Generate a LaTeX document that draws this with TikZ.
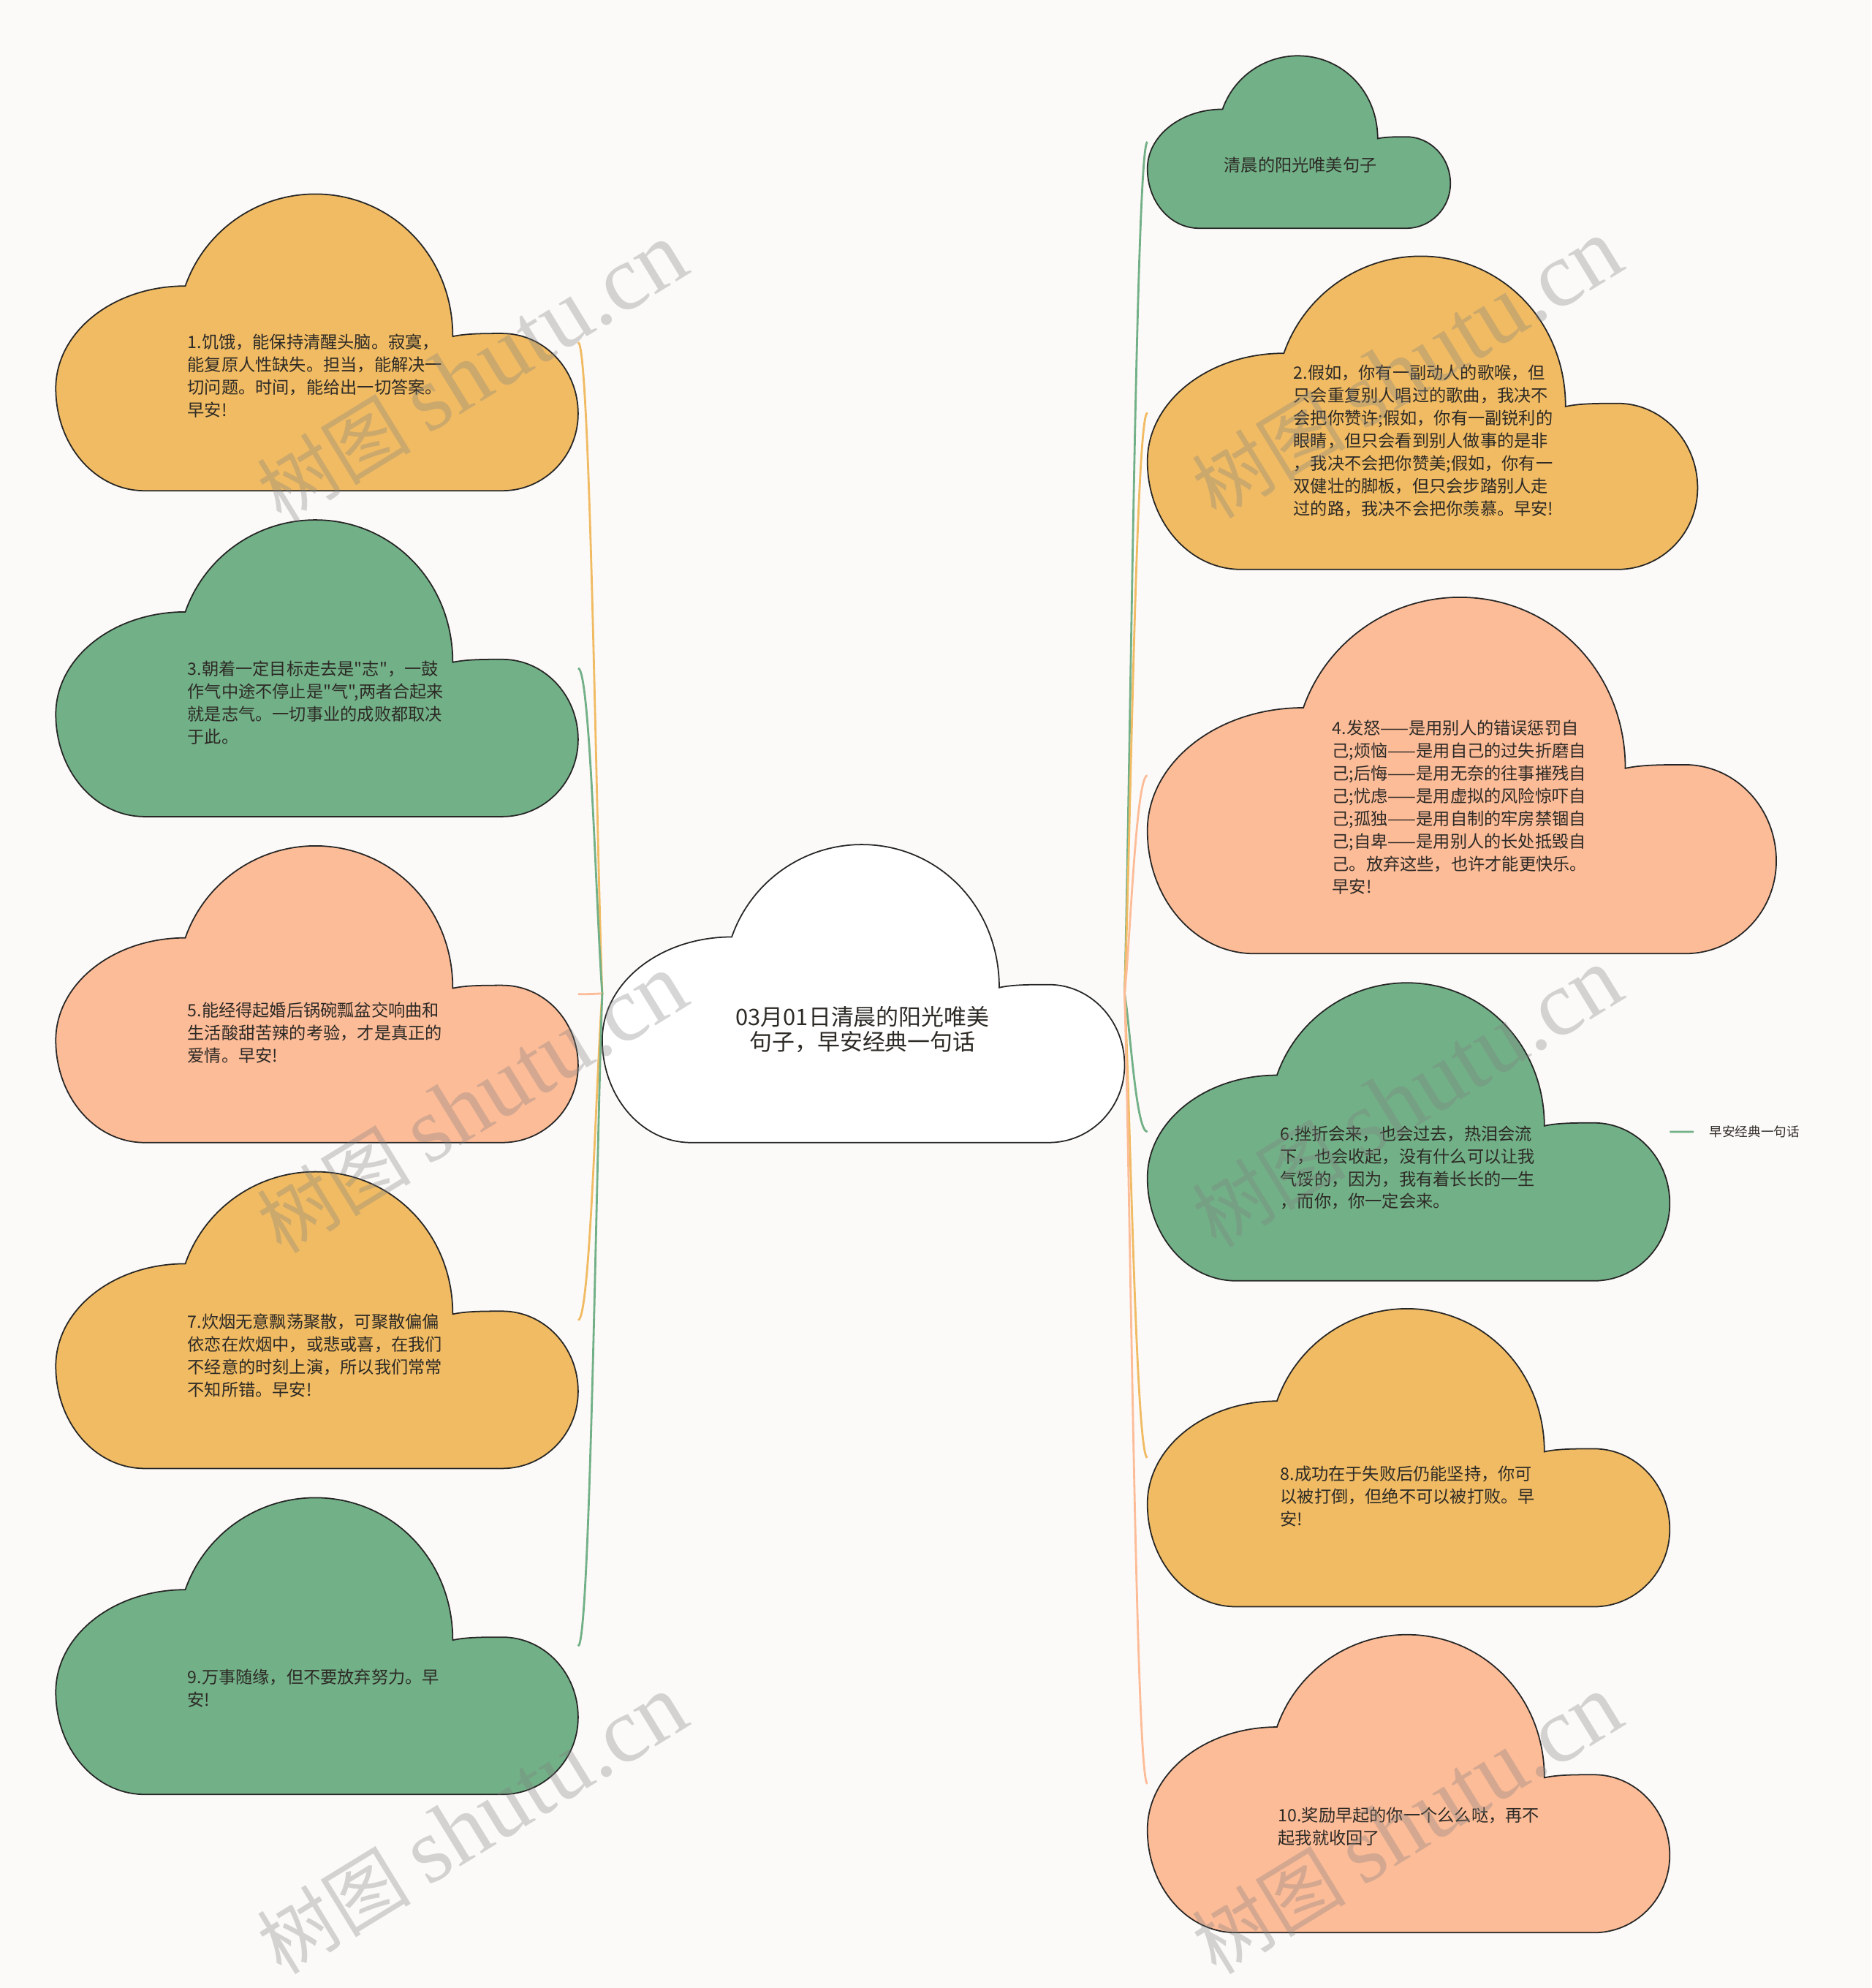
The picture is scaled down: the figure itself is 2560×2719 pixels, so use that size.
\documentclass[tikz,border=0pt]{standalone}
\usepackage{fontspec}
\setmainfont{Noto Sans CJK SC}[Ligatures=TeXOff]
\newfontfamily\wmserif{Liberation Serif}
\usetikzlibrary{calc}

\definecolor{bgpaper}{RGB}{252,250,248}
\definecolor{cloudY}{RGB}{240,187,99}
\definecolor{cloudG}{RGB}{114,176,135}
\definecolor{cloudP}{RGB}{253,188,152}
\definecolor{inkdark}{RGB}{45,42,38}

% curved branch: colour, from, to
\newcommand{\branch}[3]{%
  \draw[link, #1] (#2) .. controls ($(#2)!0.25!(#3)$) and ($(#2 |- #3)!0.5!(#3)$) .. (#3);}

\begin{document}
\begin{tikzpicture}[
    x=0.01cm, y=-0.01cm,
    link/.style={line width=0.8pt},
    txt/.style={font=\fontsize{6.6}{8.8}\selectfont, text=inkdark, align=left, anchor=west, inner sep=0pt},
    wmark/.style={rotate=31.5, text=gray, text opacity=0.32, inner sep=0pt},
    cloud/.pic={
      \filldraw[fill=#1, draw=black!85, line width=0.5pt]
        (0.17,1) .. controls (0.075,1) and (0,0.845) .. (0,0.655)
        .. controls (0,0.465) and (0.11,0.31) .. (0.248,0.31)
        .. controls (0.285,0.124) and (0.385,0) .. (0.497,0)
        .. controls (0.642,0) and (0.76,0.206) .. (0.76,0.48)
        .. controls (0.785,0.47) and (0.82,0.47) .. (0.855,0.47)
        .. controls (0.935,0.47) and (1,0.591) .. (1,0.74)
        .. controls (1,0.884) and (0.935,1) .. (0.855,1)
        -- cycle;
      \coordinate (-e) at (1,0.5);
      \coordinate (-w) at (0,0.5);
    },
]
\useasboundingbox (0,0) rectangle (2560,2719);
\clip (0,0) rectangle (2560,2719);
\fill[bgpaper] (0,0) rectangle (2560,2719);

% centre topic
\pic[shift={(823.9,1155.1)}, xscale=714.6, yscale=407.6] (cen) {cloud=white};
\node[align=center, inner sep=0pt, text=inkdark, font=\fontsize{8.8}{9.6}\selectfont] (main) at (1180,1408)
  {03月01日清晨的阳光唯美\\句子，早安经典一句话};

% left column
\pic[shift={(76.3,265.4)}, xscale=714.6, yscale=405.8] (c1) {cloud=cloudY};
\pic[shift={(76.3,711.1)}, xscale=714.6, yscale=405.8] (c3) {cloud=cloudG};
\pic[shift={(76.3,1156.9)}, xscale=714.6, yscale=405.8] (c5) {cloud=cloudP};
\pic[shift={(76.3,1602.6)}, xscale=714.6, yscale=405.8] (c7) {cloud=cloudY};
\pic[shift={(76.3,2048.4)}, xscale=714.6, yscale=405.8] (c9) {cloud=cloudG};
\node[txt] (t1) at (256,514) {1.饥饿，能保持清醒头脑。寂寞，\\能复原人性缺失。担当，能解决一\\切问题。时间，能给出一切答案。\\早安!};
\node[txt] (t3) at (256,961) {3.朝着一定目标走去是"志"，一鼓\\作气中途不停止是"气",两者合起来\\就是志气。一切事业的成败都取决\\于此。};
\node[txt] (t5) at (256,1413) {5.能经得起婚后锅碗瓢盆交响曲和\\生活酸甜苦辣的考验，才是真正的\\爱情。早安!};
\node[txt] (t7) at (256,1854) {7.炊烟无意飘荡聚散，可聚散偏偏\\依恋在炊烟中，或悲或喜，在我们\\不经意的时刻上演，所以我们常常\\不知所错。早安!};
\node[txt] (t9) at (256,2309) {9.万事随缘，但不要放弃努力。早\\安!};

% right column
\pic[shift={(1569.7,76.3)}, xscale=414.5, yscale=235.9] (c0) {cloud=cloudG};
\pic[shift={(1569.7,350.4)}, xscale=752.7, yscale=428.4] (c2) {cloud=cloudY};
\pic[shift={(1569.7,816.9)}, xscale=860.3, yscale=487.4] (c4) {cloud=cloudP};
\pic[shift={(1569.7,1344.2)}, xscale=714.6, yscale=407.6] (c6) {cloud=cloudG};
\pic[shift={(1569.7,1789.9)}, xscale=714.6, yscale=407.6] (c8) {cloud=cloudY};
\pic[shift={(1569.7,2235.7)}, xscale=714.6, yscale=407.6] (c10) {cloud=cloudP};
\node[txt] (t0) at (1674,226) {清晨的阳光唯美句子};
\node[txt] (t2) at (1769,603) {2.假如，你有一副动人的歌喉，但\\只会重复别人唱过的歌曲，我决不\\会把你赞许;假如，你有一副锐利的\\眼睛，但只会看到别人做事的是非\\，我决不会把你赞美;假如，你有一\\双健壮的脚板，但只会步踏别人走\\过的路，我决不会把你羡慕。早安!};
\node[txt] (t4) at (1822,1104) {4.发怒——是用别人的错误惩罚自\\己;烦恼——是用自己的过失折磨自\\己;后悔——是用无奈的往事摧残自\\己;忧虑——是用虚拟的风险惊吓自\\己;孤独——是用自制的牢房禁锢自\\己;自卑——是用别人的长处抵毁自\\己。放弃这些，也许才能更快乐。\\早安!};
\node[txt] (t6) at (1751,1597) {6.挫折会来，也会过去，热泪会流\\下，也会收起，没有什么可以让我\\气馁的，因为，我有着长长的一生\\，而你，你一定会来。};
\node[txt] (t8) at (1751,2047) {8.成功在于失败后仍能坚持，你可\\以被打倒，但绝不可以被打败。早\\安!};
\node[txt] (t10) at (1748,2498) {10.奖励早起的你一个么么哒，再不\\起我就收回了};

% branches
\branch{cloudY}{cen-w}{c1-e}
\branch{cloudG}{cen-w}{c3-e}
\branch{cloudP}{cen-w}{c5-e}
\branch{cloudY}{cen-w}{c7-e}
\branch{cloudG}{cen-w}{c9-e}
\branch{cloudG}{cen-e}{c0-w}
\branch{cloudY}{cen-e}{c2-w}
\branch{cloudP}{cen-e}{c4-w}
\branch{cloudG}{cen-e}{c6-w}
\branch{cloudY}{cen-e}{c8-w}
\branch{cloudP}{cen-e}{c10-w}

% sub topic of 6
\node[txt, font=\fontsize{5}{6}\selectfont] (side) at (2338,1548) {早安经典一句话};
\draw[link, cloudG, shorten >=0.21cm] (c6-e) -- (side.west);

% watermarks
\foreach \wx/\wy [count=\i] in {646/510, 1925/505, 646/1510, 1925/1502, 646/2496, 1925/2496}
  \node[wmark] (wm\i) at (\wx,\wy) {\fontsize{30}{30}\selectfont 树图 {\wmserif\fontsize{36}{36}\selectfont shutu.cn}};
\end{tikzpicture}
\end{document}
